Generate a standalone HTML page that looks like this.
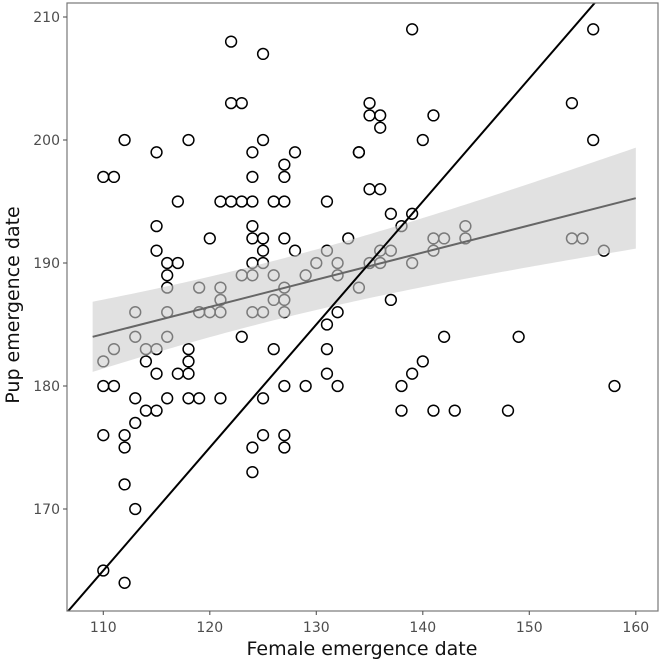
<!DOCTYPE html>
<html><head><meta charset="utf-8">
<style>
html,body{margin:0;padding:0;background:#fff;}
svg{display:block;font-family:"DejaVu Sans","Liberation Sans",sans-serif;}
</style></head>
<body>
<svg id="chart" width="661" height="662" viewBox="0 0 661 662" xmlns="http://www.w3.org/2000/svg">
</svg>
<script>
const femaleDates = [
110,111,113,113,114,115,116,116,119,120,121,121,124,125,126,127,
127,132,123,131,126,131,118,118,114,115,117,118,131,110,111,127,129,132,113,116,118,119,121,125,114,115,113,110,112,125,127,112,124,127,124,112,113,110,112,
122,125,122,123,112,118,125,115,124,128,134,127,110,111,124,127,117,121,122,123,124,126,127,131,115,124,120,124,125,127,133,115,125,128,131,116,117,124,125,130,132,116,123,124,126,129,132,116,119,121,127,134,
139,156,135,154,135,136,141,136,140,156,134,135,136,137,139,138,144,141,142,144,154,155,136,137,141,157,135,136,139,137,142,149,140,139,138,158,138,141,143,148];
const pupDates = [
182,183,186,184,183,183,186,184,186,186,186,187,186,186,187,187,
186,186,184,185,183,183,183,182,182,181,181,181,181,180,180,180,180,180,179,179,179,179,179,179,178,178,177,176,176,176,176,175,175,175,173,172,170,165,164,
208,207,203,203,200,200,200,199,199,199,199,198,197,197,197,197,195,195,195,195,195,195,195,195,193,193,192,192,192,192,192,191,191,191,191,190,190,190,190,190,190,189,189,189,189,189,189,188,188,188,188,188,
209,209,203,203,202,202,202,201,200,200,199,196,196,194,194,193,193,192,192,192,192,192,191,191,191,191,190,190,190,187,184,184,182,181,180,180,178,178,178,178];
const xTicks = [110,120,130,140,150,160];
const yTicks = [170,180,190,200,210];
const fitIntercept = 184.0, fitSlope = 0.221, fitX0 = 109, fitX1 = 160;
const refOffset = 55;

const NS = "http://www.w3.org/2000/svg";
const svg = document.getElementById('chart');
const L=67, R=658, T=3, B=611;
function sx(x){ return 103.3 + (x-110)*10.65; }
function sy(y){ return 140 - (y-200)*12.3; }
function mk(tag, attrs){ const e=document.createElementNS(NS,tag); for(const k in attrs) e.setAttribute(k, attrs[k]); svg.appendChild(e); return e; }

const defs = mk('defs',{});
const cp = document.createElementNS(NS,'clipPath'); cp.setAttribute('id','pc');
const cr = document.createElementNS(NS,'rect'); cr.setAttribute('x',L); cr.setAttribute('y',T); cr.setAttribute('width',R-L); cr.setAttribute('height',B-T);
cp.appendChild(cr); defs.appendChild(cp);

const pg = mk('g',{'clip-path':'url(#pc)'});


for(let i=0;i<femaleDates.length;i++){
  const c=document.createElementNS(NS,'circle');
  c.setAttribute('cx',sx(femaleDates[i])); c.setAttribute('cy',sy(pupDates[i])); c.setAttribute('r',5.4);
  c.setAttribute('fill','none'); c.setAttribute('stroke','#000'); c.setAttribute('stroke-width','1.5');
  
  
  pg.appendChild(c);
}
const xm=125, h0sq=5.83, bq=0.009;
let up=[], lo=[];
for(let x=fitX0;x<=fitX1+0.001;x+=0.5){
  const y=fitIntercept+fitSlope*(x-fitX0), h=Math.sqrt(h0sq+bq*(x-xm)*(x-xm));
  up.push(sx(x)+','+sy(y+h)); lo.unshift(sx(x)+','+sy(y-h));
}
const band = mk('polygon',{points:up.concat(lo).join(' '),fill:'rgb(205,205,205)','fill-opacity':'0.6'});


const fit = mk('line',{x1:sx(fitX0),y1:sy(fitIntercept),x2:sx(fitX1),y2:sy(fitIntercept+fitSlope*(fitX1-fitX0)),stroke:'#666','stroke-width':'2'});


const ref = mk('line',{x1:sx(100),y1:sy(100+refOffset),x2:sx(170),y2:sy(170+refOffset),stroke:'#000','stroke-width':'2','clip-path':'url(#pc)'});


const bd = mk('rect',{x:L,y:T,width:R-L,height:B-T,fill:'none',stroke:'#777','stroke-width':'1.2'});


for(const t of xTicks){
  const tk=mk('line',{x1:sx(t),x2:sx(t),y1:B,y2:B+4,stroke:'#555','stroke-width':'1.1'});
  
  
  const tx=mk('text',{x:sx(t),y:B+21,'text-anchor':'middle','font-size':'14',fill:'#4d4d4d'});
  tx.textContent=t;
  
  
}
for(const t of yTicks){
  const tk=mk('line',{x1:L-4,x2:L,y1:sy(t),y2:sy(t),stroke:'#555','stroke-width':'1.1'});
  
  
  const tx=mk('text',{x:L-7,y:sy(t)+5,'text-anchor':'end','font-size':'14',fill:'#4d4d4d'});
  tx.textContent=t;
  
  
}
const xt=mk('text',{x:362,y:655,'text-anchor':'middle','font-size':'19',fill:'#111'});
xt.textContent='Female emergence date';


const yt=mk('text',{x:0,y:0,'text-anchor':'middle','font-size':'19',fill:'#111',transform:'translate(19,305) rotate(-90)'});
yt.textContent='Pup emergence date';


</script>
</body></html>
